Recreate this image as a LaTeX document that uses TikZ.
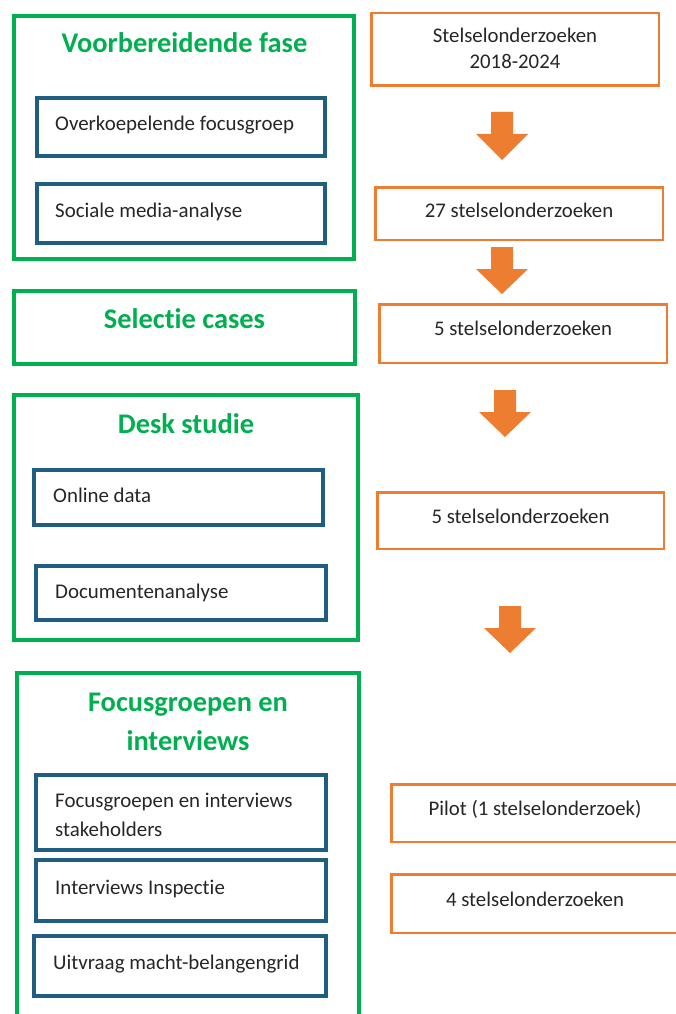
\documentclass[tikz,border=0pt]{standalone}
\usepackage{fontspec}
\setmainfont{Carlito}[Ligatures=NoCommon]
\definecolor{grn}{HTML}{00B050}
\definecolor{blu}{HTML}{1F5D82}
\definecolor{org}{HTML}{ED7D31}
\tikzset{
  phasebox/.style={draw=grn, line width=4pt, minimum width=#1, inner sep=0pt},
  subbox/.style={draw=blu, line width=4pt, inner sep=0pt},
  countbox/.style={draw=org, line width=2.5pt, inner sep=0pt},
  ttl/.style={text=grn, font=\fontsize{28.4}{39}\selectfont\bfseries, inner sep=0pt, anchor=base},
  btxt/.style={text=black!85, font=\fontsize{20.9}{29}\selectfont, inner sep=0pt, anchor=base west},
  ctxt/.style={text=black!85, font=\fontsize{20.8}{27}\selectfont, inner sep=0pt, anchor=base},
}
\newcommand\blockarr[3]{\fill[org] (#1-11,#2) -- (#1+11,#2) -- (#1+11,#2+22) -- (#1+26,#2+22) -- (#1,#3) -- (#1-26,#2+22) -- (#1-11,#2+22) -- cycle;}
\begin{document}
\begin{tikzpicture}[x=1pt,y=-1pt]
\useasboundingbox (0,0) rectangle (676,1014);
\fill[white] (0,0) rectangle (676,1014);
\clip (0,0) rectangle (676,1014);
% green phase boxes
\node[phasebox=340pt, minimum height=243pt] (g1) at (184,137.5) {};
\node[phasebox=341pt, minimum height=73pt] (g2) at (184.5,327.5) {};
\node[phasebox=344pt, minimum height=245pt] (g3) at (186,517.5) {};
\node[phasebox=342pt, minimum height=355pt] (g4) at (188,850.5) {};
% titles
\node[ttl] (g1t) at (184.5,53) {Voorbereidende fase};
\node[ttl] (g2t) at (184.5,328) {Selec\kern0pt tie cases};
\node[ttl] (g3t) at (186,433) {Desk studie};
\node[ttl] (g4t) at (188,711) {Focusgroepen en};
\node[ttl] (g4u) at (188,750) {interviews};
% blue sub boxes
\node[subbox, minimum width=288pt, minimum height=58pt] (b1) at (181,127) {};
\node[subbox, minimum width=288pt, minimum height=59pt] (b2) at (181,213.5) {};
\node[subbox, minimum width=289pt, minimum height=55pt] (b3) at (178.5,497.5) {};
\node[subbox, minimum width=290pt, minimum height=54pt] (b4) at (181,593) {};
\node[subbox, minimum width=290pt, minimum height=75pt] (b5) at (181,812.5) {};
\node[subbox, minimum width=290pt, minimum height=61pt] (b6) at (181,890.5) {};
\node[subbox, minimum width=292pt, minimum height=60pt] (b7) at (180,966) {};
\node[btxt] (b1t) at (55,131) {Overkoepelende focusgroep};
\node[btxt] (b2t) at (55,217) {Sociale media-analyse};
\node[btxt] (b3t) at (53,502) {Online data};
\node[btxt] (b4t) at (55,598) {Documentenanalyse};
\node[btxt] (b5t) at (55,807) {Focusgroepen en interviews};
\node[btxt] (b5u) at (55,836) {stakeholders};
\node[btxt] (b6t) at (55,894) {Interviews Inspec\kern0pt tie};
\node[btxt] (b7t) at (53,969) {Uitvraag macht-belangengrid};
% orange count boxes
\node[countbox, minimum width=287.5pt, minimum height=72.5pt] (o1) at (515,49.5) {};
\node[countbox, minimum width=287.5pt, minimum height=52.5pt] (o2) at (519,213.5) {};
\node[countbox, minimum width=287.5pt, minimum height=58.5pt] (o3) at (523,333.5) {};
\node[countbox, minimum width=286.5pt, minimum height=56.5pt] (o4) at (520.5,520.5) {};
\node[countbox, minimum width=297.5pt, minimum height=57.5pt] (o5) at (540,813) {};
\node[countbox, minimum width=297.5pt, minimum height=58.5pt] (o6) at (540,903.5) {};
\node[ctxt] (o1t) at (515,43) {Stelselonderzoeken};
\node[ctxt] (o1u) at (515,69) {2018-2024};
\node[ctxt] (o2t) at (519,217) {27 stelselonderzoeken};
\node[ctxt] (o3t) at (523,335) {5 stelselonderzoeken};
\node[ctxt] (o4t) at (520.5,523) {5 stelselonderzoeken};
\node[ctxt] (o5t) at (535,815) {Pilot (1 stelselonderzoek)};
\node[ctxt] (o6t) at (535,906) {4 stelselonderzoeken};
% block arrows
\blockarr{502}{112}{160}
\blockarr{502}{247}{294}
\blockarr{505}{390}{437}
\blockarr{510}{606}{653}
\end{tikzpicture}
\end{document}
